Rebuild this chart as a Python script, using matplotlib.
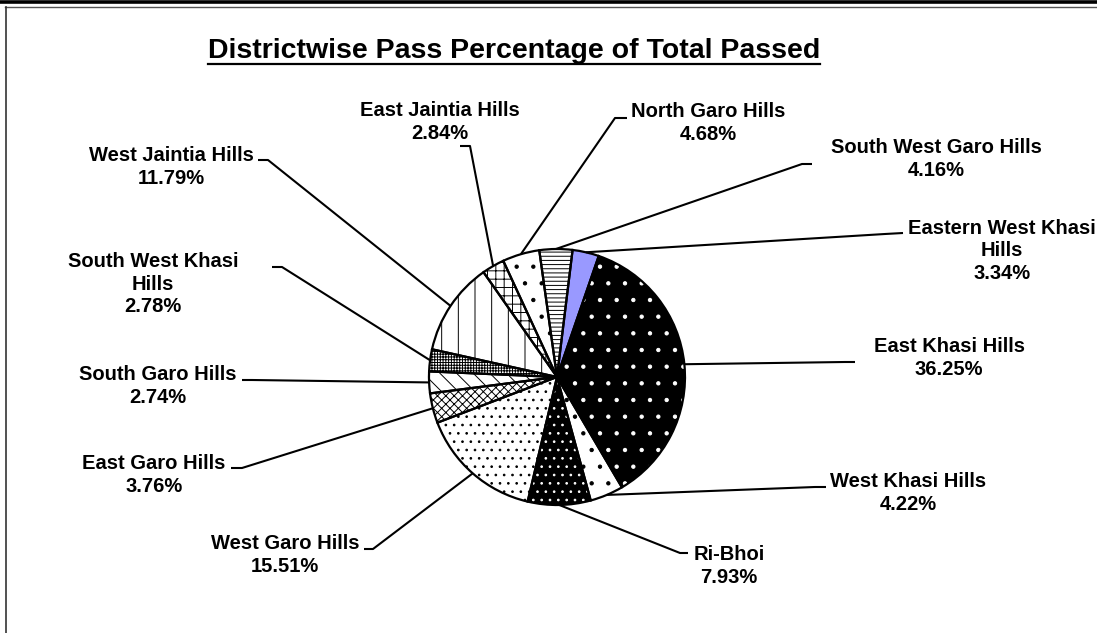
import numpy as np
import matplotlib
matplotlib.use('Agg')
import matplotlib.pyplot as plt

plt.rcParams['font.family'] = ['Liberation Sans', 'DejaVu Sans']
plt.rcParams['hatch.linewidth'] = 0.7

districts = ['Eastern West Khasi\nHills', 'East Khasi Hills', 'West Khasi Hills', 'Ri-Bhoi',
             'West Garo Hills', 'East Garo Hills', 'South Garo Hills', 'South West Khasi\nHills',
             'West Jaintia Hills', 'East Jaintia Hills', 'North Garo Hills', 'South West Garo Hills']
pass_pct = [3.34, 36.25, 4.22, 7.93, 15.51, 3.76, 2.74, 2.78, 11.79, 2.84, 4.68, 4.16]

# fill colour, hatch, hatch colour for each slice
faces = ['#9999ff', 'black', 'white', 'black', 'white', 'white',
         'white', 'white', 'white', 'white', 'white', 'white']
hatches = ['', '.', '.', '..', '..', 'xxxx', '\\\\', '++++++', '|', '++', '.', '----']
hatch_cols = ['#9999ff', 'white', 'black', 'white', 'black', 'black',
              'black', 'black', 'black', 'black', 'black', 'black']

# label layout in picture pixels: text centre, leader start, stub end
label_xy = [(1002, 251), (949, 358), (908, 493), (729, 566), (285, 555), (154, 475),
            (158, 386), (153, 284), (171, 167), (440, 122), (708, 123), (936, 159)]
stub = [((903, 233), (885, 234)), ((855, 362), (845, 362)), ((826, 487), (815, 487)),
        ((688, 553), (680, 553)), ((364, 549), (373, 549)), ((231, 468), (242, 468)),
        ((242, 380), (252, 380)), ((272, 267), (282, 267)), ((258, 160), (268, 160)),
        ((460, 146), (470, 146)), ((627, 118), (615, 118)), ((812, 164), (802, 164))]

W, H = 1097, 633
fig = plt.figure(figsize=(W / 100, H / 100), dpi=100)
ax = fig.add_axes([0, 0, 1, 1])

cx, cy, r = 557, H - 377, 128
wedges, _ = ax.pie(pass_pct, startangle=83, counterclock=False, center=(cx, cy),
                   radius=r, frame=True, wedgeprops=dict(linewidth=0))
for w, fc, h, hc in zip(wedges, faces, hatches, hatch_cols):
    w.set_facecolor(fc)
    w.set_edgecolor(hc)
    w.set_hatch(h)

outline, _ = ax.pie(pass_pct, startangle=83, counterclock=False, center=(cx, cy),
                    radius=r, frame=True,
                    wedgeprops=dict(fill=False, edgecolor='black', linewidth=1.6))

ax.set_xlim(0, W)
ax.set_ylim(0, H)
ax.set_aspect('auto')
ax.axis('off')

for w, name, pct, (tx, ty), (p0, p1) in zip(wedges, districts, pass_pct, label_xy, stub):
    ang = np.deg2rad((w.theta1 + w.theta2) / 2)
    ex, ey = cx + r * np.cos(ang), cy + r * np.sin(ang)
    ax.plot([p0[0], p1[0], ex], [H - p0[1], H - p1[1], ey], color='black', lw=1.5,
            solid_capstyle='butt')
    ax.text(tx, H - ty, f'{name}\n{pct:.2f}%', ha='center', va='center',
            multialignment='center', fontsize=14.5, fontweight='bold', linespacing=1.25)

title = ax.text(514, H - 51, 'Districtwise Pass Percentage of Total Passed', ha='center',
                va='center', fontsize=20.5, fontweight='bold')
fig.canvas.draw()
bb = title.get_window_extent()
ax.plot([bb.x0, bb.x1], [H - 64, H - 64], color='black', lw=1.6)

# chart border
ax.plot([0, W], [H - 1.5, H - 1.5], color='black', lw=2.6)
ax.plot([5, W], [H - 7, H - 7], color='#555555', lw=1.0)
ax.plot([5.5, 5.5], [0, H - 7], color='#333333', lw=1.2)

fig.savefig('out.png', dpi=100)
